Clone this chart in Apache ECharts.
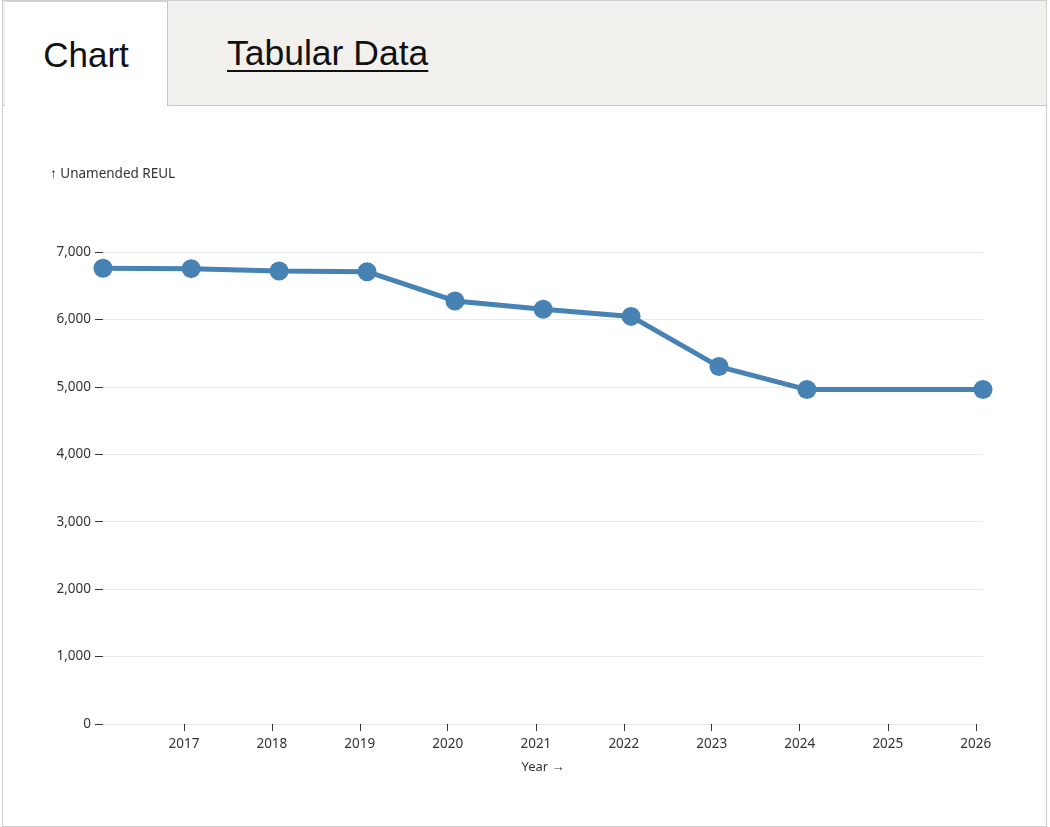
<!DOCTYPE html>
<html>
<head>
<meta charset="utf-8">
<script src="https://cdn.jsdelivr.net/npm/echarts@6/dist/echarts.min.js"></script>
<style>
  html, body { margin: 0; padding: 0; background: #fff; }
  body { width: 1050px; height: 827px; position: relative; overflow: hidden; }
  .panel { position: absolute; left: 2px; top: 0; width: 1043px; height: 825px; border: 1px solid #cfcfcf; }
  .header { position: absolute; left: 0; top: 0; width: 1043px; height: 104px; background: #f2f0ed; border-bottom: 1px solid #c8c8c8; }
  .tab { position: absolute; top: 0; height: 105px; font-family: "Liberation Sans", Arial, sans-serif; font-size: 35px; color: #111; line-height: 105px; }
  .tab.active { left: 2px; width: 163px; background: #fff; border-right: 1px solid #c8c8c8; border-top: 1px solid #d8d8d8; text-align: center; box-sizing: border-box; }
  .tab.link { left: 224px; font-size: 35.5px; text-decoration: underline; text-decoration-thickness: 2px; text-underline-offset: 5px; }
  #chart { position: absolute; left: 0; top: 106px; width: 1048px; height: 718px; }
</style>
</head>
<body>
<div class="panel">
  <div class="header">
    <div class="tab active">Chart</div>
    <div class="tab link">Tabular Data</div>
  </div>
</div>
<div id="chart"></div>
<script>
  // dates of each reading and the unamended REUL count
  const dates = ['2016-01-31', '2017-01-31', '2018-01-31', '2019-01-31', '2020-01-31',
    '2021-01-31', '2022-01-31', '2023-01-31', '2024-01-31', '2026-01-31'];
  const reulCounts = [6759, 6753, 6719, 6708, 6274, 6151, 6045, 5301, 4960, 4960];
  const tickYears = [2017, 2018, 2019, 2020, 2021, 2022, 2023, 2024, 2025, 2026];
  const yTicks = [0, 1000, 2000, 3000, 4000, 5000, 6000, 7000];

  const font = '"Noto Sans", "Open Sans", sans-serif';
  const tickTimes = tickYears.map(y => new Date(y, 0, 1).getTime());
  const YEAR = 365 * 24 * 3600 * 1000;

  const chart = echarts.init(document.getElementById('chart'));
  chart.setOption({
    animation: false,
    title: {
      text: '↑ Unamended REUL',
      left: 45,
      top: 56,
      textStyle: {fontFamily: font, fontSize: 13.5, fontWeight: 'normal', color: '#333'}
    },
    grid: {left: 103, right: 65, top: 146, bottom: 100},
    xAxis: {
      type: 'time',
      min: dates[0],
      max: dates[dates.length - 1],
      minInterval: YEAR,
      maxInterval: YEAR * 1.01,
      name: 'Year →',
      nameLocation: 'middle',
      nameGap: 37,
      nameTextStyle: {fontFamily: font, fontSize: 13, color: '#333'},
      axisLine: {show: false},
      axisTick: {show: true, length: 7, customValues: tickTimes, lineStyle: {color: '#333', width: 1}},
      axisLabel: {
        showMinLabel: false,
        showMaxLabel: false,
        margin: 13,
        fontFamily: font,
        fontSize: 13.5,
        color: '#333',
        formatter: '{yyyy}'
      },
      splitLine: {show: false}
    },
    yAxis: {
      type: 'value',
      min: yTicks[0],
      max: yTicks[yTicks.length - 1],
      interval: 1000,
      axisLine: {show: false},
      axisTick: {show: true, length: 8, lineStyle: {color: '#333', width: 1}},
      axisLabel: {
        margin: 12,
        fontFamily: font,
        fontSize: 13.5,
        color: '#333',
        formatter: v => v.toLocaleString('en-US')
      },
      splitLine: {show: true, lineStyle: {color: '#ebebeb', width: 1}}
    },
    series: [{
      type: 'line',
      data: dates.map((d, i) => [d, reulCounts[i]]),
      symbol: 'circle',
      symbolSize: 19,
      itemStyle: {color: '#4682b4'},
      lineStyle: {color: '#4682b4', width: 5}
    }]
  });
</script>
</body>
</html>
